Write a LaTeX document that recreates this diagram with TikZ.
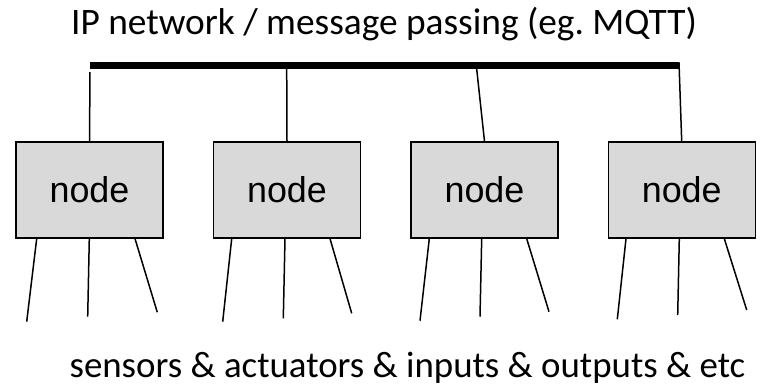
\documentclass[tikz,border=0pt]{standalone}
\usepackage{fontspec}
\setmainfont{Carlito}
\newfontfamily\boxfont{Liberation Sans}
\frenchspacing
\begin{document}
\begin{tikzpicture}[x=1bp,y=-1bp,
  nodebox/.style={draw=black,line width=1.3bp,fill=boxgray,minimum width=147bp,minimum height=96bp,inner sep=0pt,font=\boxfont\fontsize{36}{42}\selectfont},
  wire/.style={draw=black,line width=1.5bp},
  bus/.style={draw=black,line width=6.5bp},
  label/.style={inner sep=0pt,anchor=base}]
\definecolor{boxgray}{HTML}{D9D9D9}
\useasboundingbox (0,0) rectangle (761,386);
% title
\node[label,font=\fontsize{37.5}{44}\selectfont] (title) at (384,34) {IP network / message passing (eg. MQTT)};
% bus
\coordinate (busL) at (90,65.5);
\coordinate (busR) at (679,65.5);
\draw[bus] (busL) -- (busR);
% boxes
\node[nodebox] (b1) at (89.5,190) {node};
\node[nodebox] (b2) at (287,190) {node};
\node[nodebox] (b3) at (484.5,190) {node};
\node[nodebox] (b4) at (681.7,190) {node};
% top connectors
\coordinate (t1) at (90,72);
\coordinate (t2) at (286.7,69);
\coordinate (t3) at (476.7,69);
\coordinate (t4) at (679,62.5);
\draw[wire] (t1) -- (b1.north);
\draw[wire] (t2) -- (b2.north);
\draw[wire] (t3) -- (b3.north);
\draw[wire] (t4) -- (b4.north);
% bottom ends
\coordinate (e11) at (26.7,321.7);
\coordinate (e12) at (87.7,316.7);
\coordinate (e13) at (157.3,312.3);
\coordinate (e21) at (222.7,321.7);
\coordinate (e22) at (283.3,318.3);
\coordinate (e23) at (351.7,313.3);
\coordinate (e31) at (420,320.7);
\coordinate (e32) at (480,316.7);
\coordinate (e33) at (549,311.7);
\coordinate (e41) at (617.3,319.3);
\coordinate (e42) at (677.7,315);
\coordinate (e43) at (746.7,310);
\draw[wire] ([xshift=-52.8bp]b1.south) -- (e11);
\draw[wire] ([xshift=-0.2bp]b1.south) -- (e12);
\draw[wire] ([xshift=45.5bp]b1.south) -- (e13);
\draw[wire] ([xshift=-55.3bp]b2.south) -- (e21);
\draw[wire] ([xshift=-2bp]b2.south) -- (e22);
\draw[wire] ([xshift=43bp]b2.south) -- (e23);
\draw[wire] ([xshift=-55.2bp]b3.south) -- (e31);
\draw[wire] ([xshift=-2.8bp]b3.south) -- (e32);
\draw[wire] ([xshift=42.2bp]b3.south) -- (e33);
\draw[wire] ([xshift=-55.7bp]b4.south) -- (e41);
\draw[wire] ([xshift=-2.4bp]b4.south) -- (e42);
\draw[wire] ([xshift=42.6bp]b4.south) -- (e43);
% bottom text
\node[label,font=\fontsize{37}{44}\selectfont] (foot) at (407.5,377) {sensors \& actuators \& inputs \& outputs \& etc};
\end{tikzpicture}
\end{document}
